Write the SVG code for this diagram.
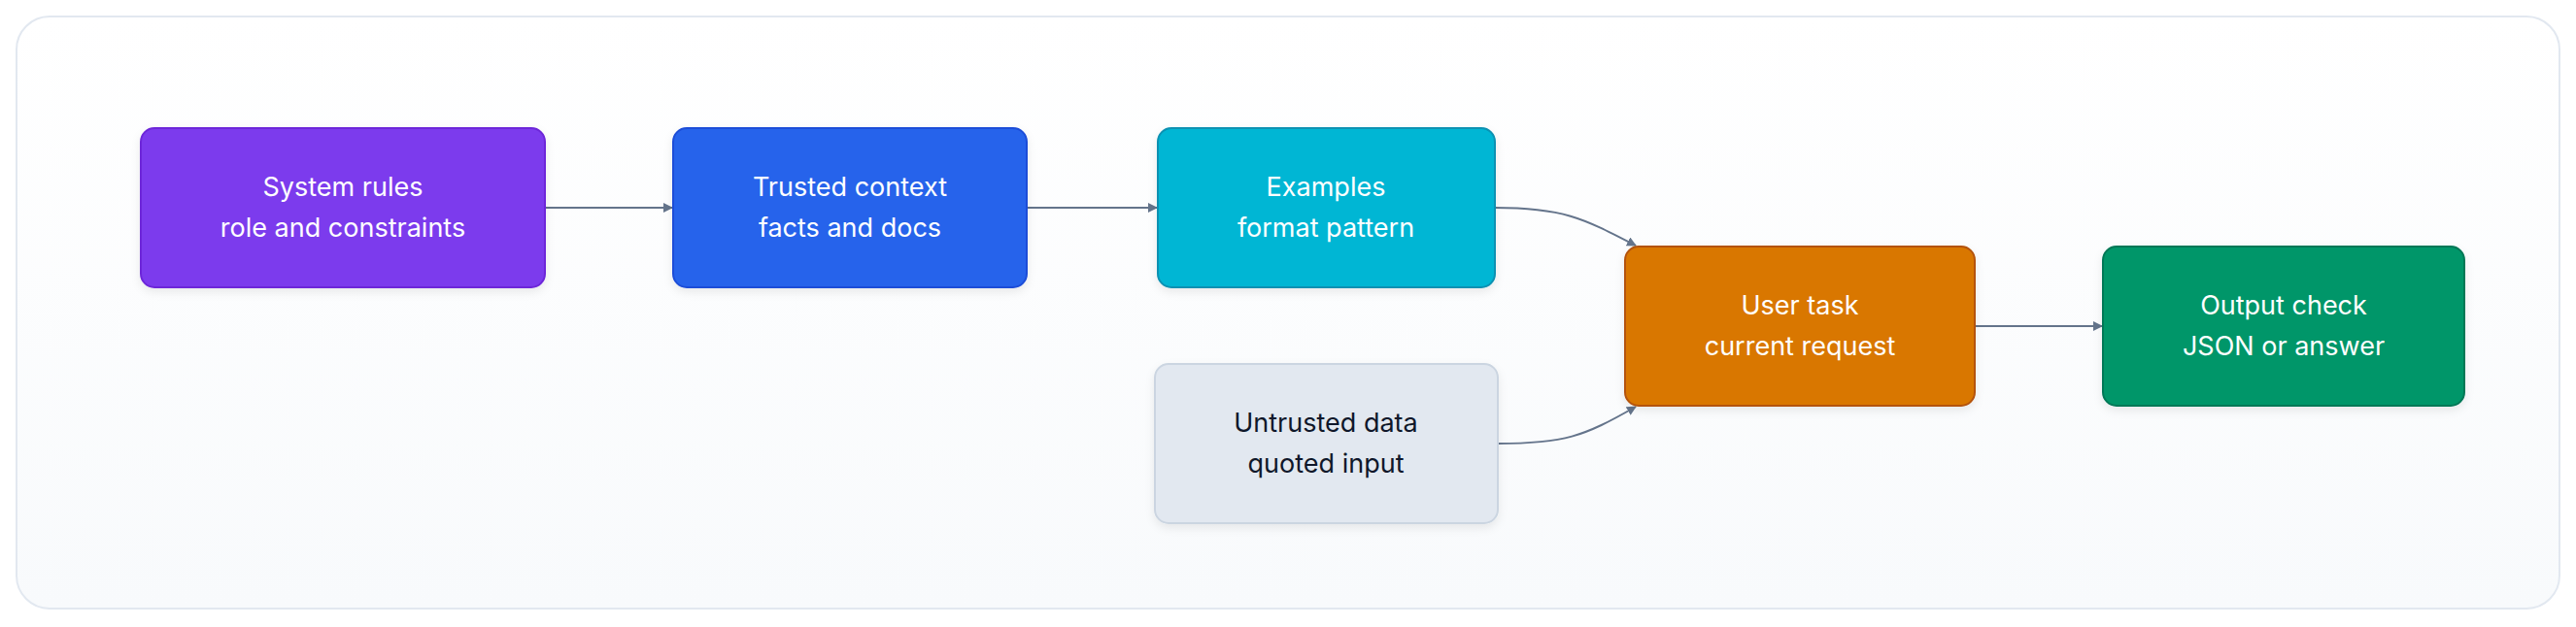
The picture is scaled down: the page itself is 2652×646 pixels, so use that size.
<svg xmlns="http://www.w3.org/2000/svg" width="2652" height="646" viewBox="0 0 2652 646">
<defs>
<linearGradient id="bg" x1="0" y1="0" x2="0" y2="1"><stop offset="0" stop-color="#ffffff"/><stop offset="1" stop-color="#f8fafc"/></linearGradient>
<filter id="sh" x="-10%" y="-10%" width="120%" height="130%"><feDropShadow dx="0" dy="4" stdDeviation="5" flood-color="#0f172a" flood-opacity="0.08"/></filter>
<marker id="ah" viewBox="0 0 10 10" refX="9" refY="5" markerWidth="10" markerHeight="10" markerUnits="userSpaceOnUse" orient="auto"><path d="M0,0 L10,5 L0,10 z" fill="#64748b"/></marker>
<style>
.n{stroke-width:2;filter:url(#sh)}
.t{font-family:Inter,"Noto Sans",sans-serif;font-size:27px;text-anchor:middle;fill:#ffffff}
.d{fill:#0f172a}
.c{fill:none;stroke:#64748b;stroke-width:2;marker-end:url(#ah)}
</style>
</defs>
<rect x="17" y="17" width="2618" height="610" rx="34" fill="url(#bg)" stroke="#e2e8f0" stroke-width="2"/>
<g id="connectors">
<path class="c" d="M561,214 L692,214"/>
<path class="c" d="M1057,214 L1191,214"/>
<path class="c" d="M1539,214 C1610,214 1630,225 1684,253"/>
<path class="c" d="M1542,457 C1610,457 1630,450 1684,419"/>
<path class="c" d="M2033,336 L2164,336"/>
</g>
<g id="system"><rect class="n" x="145" y="132" width="416" height="164" rx="14" fill="#7c3aed" stroke="#6d28d9"/><text class="t" x="353" y="202">System rules</text><text class="t" x="353" y="244">role and constraints</text></g>
<g id="trusted"><rect class="n" x="693" y="132" width="364" height="164" rx="14" fill="#2563eb" stroke="#1d4ed8"/><text class="t" x="875" y="202">Trusted context</text><text class="t" x="875" y="244">facts and docs</text></g>
<g id="examples"><rect class="n" x="1192" y="132" width="347" height="164" rx="14" fill="#06b6d4" stroke="#0891b2"/><text class="t" x="1365" y="202">Examples</text><text class="t" x="1365" y="244">format pattern</text></g>
<g id="untrusted"><rect class="n" x="1189" y="375" width="353" height="164" rx="14" fill="#e2e8f0" stroke="#cbd5e1"/><text class="t d" x="1365" y="445">Untrusted data</text><text class="t d" x="1365" y="487">quoted input</text></g>
<g id="user"><rect class="n" x="1673" y="254" width="360" height="164" rx="14" fill="#d97706" stroke="#b45309"/><text class="t" x="1853" y="324">User task</text><text class="t" x="1853" y="366">current request</text></g>
<g id="output"><rect class="n" x="2165" y="254" width="372" height="164" rx="14" fill="#059669" stroke="#047857"/><text class="t" x="2351" y="324">Output check</text><text class="t" x="2351" y="366">JSON or answer</text></g>
</svg>
